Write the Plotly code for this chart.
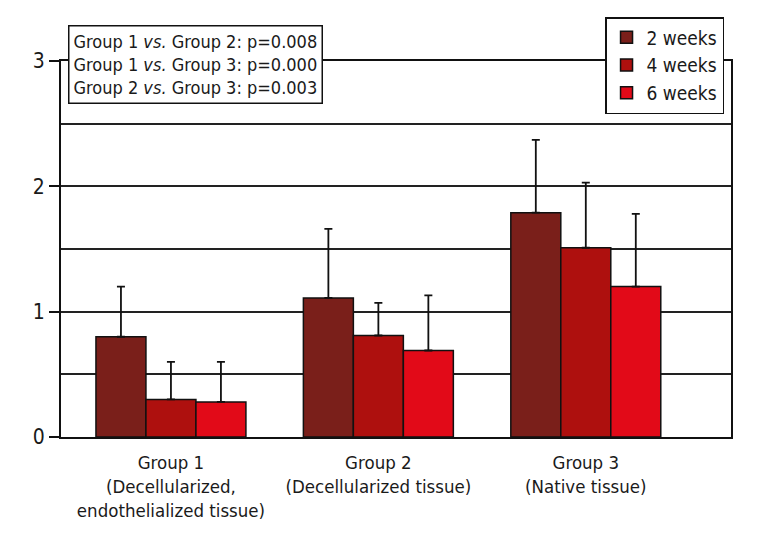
import plotly.graph_objects as go

# Data
groups = [
    "Group 1<br>(Decellularized,<br>endothelialized tissue)",
    "Group 2<br>(Decellularized tissue)",
    "Group 3<br>(Native tissue)",
]
weeks = ["2 weeks", "4 weeks", "6 weeks"]
means = {
    "2 weeks": [0.80, 1.11, 1.79],
    "4 weeks": [0.30, 0.81, 1.51],
    "6 weeks": [0.28, 0.69, 1.20],
}
errors = {
    "2 weeks": [0.40, 0.55, 0.58],
    "4 weeks": [0.30, 0.26, 0.52],
    "6 weeks": [0.32, 0.44, 0.58],
}
colors = {"2 weeks": "#7a1f1a", "4 weeks": "#ae100e", "6 weeks": "#e20a18"}
stats_lines = [
    "Group 1 <i>vs.</i> Group 2: p=0.008",
    "Group 1 <i>vs.</i> Group 3: p=0.000",
    "Group 2 <i>vs.</i> Group 3: p=0.003",
]

FONT = "DejaVu Sans Condensed, Liberation Sans Narrow, sans-serif"

fig = go.Figure()
for w in weeks:
    fig.add_trace(go.Bar(
        x=groups, y=means[w], name=w,
        marker=dict(color=colors[w], line=dict(color="#111111", width=1.5)),
        error_y=dict(type="data", array=errors[w], symmetric=False,
                     arrayminus=[0] * len(groups),
                     color="#111111", thickness=1.8, width=4),
    ))

# page body has an 8px margin, so margins are offset to compensate
fig.update_layout(
    width=768, height=552,
    margin=dict(l=53, r=45, t=53, b=123, autoexpand=False),
    paper_bgcolor="white", plot_bgcolor="white",
    font=dict(family=FONT, size=18, color="#1a1a1a"),
    barmode="group", bargap=0.277, bargroupgap=0,
    showlegend=True,
    legend=dict(
        x=0.812, y=1.117, xanchor="left", yanchor="top",
        bgcolor="white", bordercolor="#111111", borderwidth=1.5,
        font=dict(size=19), itemwidth=30, tracegroupgap=0,
    ),
    xaxis=dict(
        range=[-0.53, 2.70], showgrid=False, showline=True, mirror=True,
        linecolor="#111111", linewidth=2, ticks="", zeroline=False,
        tickfont=dict(size=18.5), ticklabelstandoff=8,
    ),
    yaxis=dict(
        range=[0, 3], tickvals=[0, 1, 2, 3], ticks="outside", ticklen=10,
        tickwidth=2, tickcolor="#111111",
        showline=True, mirror=True, linecolor="#111111", linewidth=2,
        showgrid=True, gridcolor="#222222", gridwidth=2, zeroline=False,
        minor=dict(dtick=0.5, showgrid=True, gridcolor="#222222", gridwidth=2, ticks=""),
        tickfont=dict(size=21),
    ),
    annotations=[dict(
        text="<br>".join(stats_lines), xref="paper", yref="paper",
        x=0.0104, y=1.096, xanchor="left", yanchor="top", align="left",
        showarrow=False, bgcolor="white", bordercolor="#111111",
        borderwidth=1.5, borderpad=4, font=dict(size=18),
    )],
)

fig.write_html("out.html")
